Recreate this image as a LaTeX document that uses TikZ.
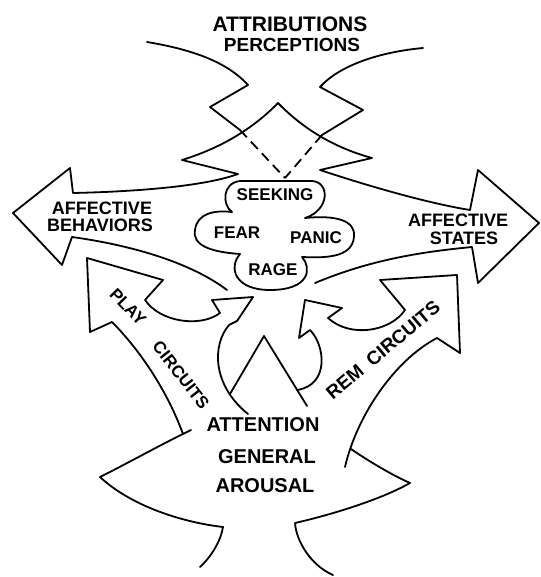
\documentclass[tikz,border=0pt]{standalone}
\usepackage{fontspec}
\setmainfont{Liberation Sans}
\newcommand\fsz[1]{\fontsize{#1}{#1}\selectfont\bfseries}
\tikzset{
  ln/.style={line width=1.8pt, line join=round, line cap=round},
  dsh/.style={line width=1.8pt, dash pattern=on 10pt off 6pt},
  lbl/.style={inner sep=0pt}
}
\begin{document}
\begin{tikzpicture}[x=1pt,y=-1pt]
\useasboundingbox (0,0) rectangle (540,577);

% top incoming arrow (attributions)
\draw[ln] (147,42) .. controls (195,50) and (228,63) .. (248,85) -- (210,107) -- (240,130);
\draw[dsh] (240,130) -- (285,178);
\draw[ln] (423,48) .. controls (380,52) and (340,65) .. (320,87) -- (363,110) -- (322,135);
\draw[dsh] (322,135) -- (285,178);

% horizontal arrows joined with upward head
\draw[ln] (227,290) .. controls (190,262) and (130,245) .. (72,237) -- (62,265) -- (13,213) -- (70,168) -- (73,193)
  .. controls (120,192) and (200,188) .. (238,174) -- (182,160)
  .. controls (220.7,148) and (252.7,129) .. (278,103)
  .. controls (304,129.7) and (335.3,148) .. (372,158) -- (320,170)
  .. controls (350,180) and (420,202) .. (470,210) -- (478,170) -- (539,223) -- (478,283) -- (472,247)
  .. controls (420,252) and (370,260) .. (315,283);

% cloud
\draw[ln] (232,212) .. controls (222,205) and (222,183) .. (240,181) -- (312,181)
  .. controls (330,182) and (330,210) .. (305,218)
  .. controls (335,215) and (356,220) .. (354,237)
  .. controls (352,258) and (325,258) .. (302,257)
  .. controls (312,268) and (310,290) .. (270,290)
  .. controls (235,290) and (228,268) .. (240,254)
  .. controls (210,252) and (192,245) .. (195,230)
  .. controls (197,213) and (215,210) .. (232,212) -- cycle;

% play circuits arrow + body left
\draw[ln] (163,280) -- (87,258) -- (90,332) -- (112,322)
  .. controls (135,345) and (165,385) .. (183,434) -- (191,430)
  .. controls (160,445) and (130,462) .. (100,477)
  .. controls (130,505) and (180,522) .. (223,527)
  .. controls (221,540) and (212,556) .. (200,567);
% left loop
\draw[ln] (163,280) -- (145,300) .. controls (160,322) and (200,328) .. (220,313)
  -- (212,300) -- (253,297) -- (237,321) -- (229,325)
  .. controls (212,345) and (212,385) .. (248,414);
% central peak
\draw[ln] (230,394) -- (264,336) -- (307,406);
% right loop
\draw[ln] (405,310) .. controls (390,332) and (350,338) .. (328,318) -- (342,308) -- (305,300) -- (299,338) -- (310,330)
  .. controls (325,345) and (330,385) .. (297,390);
% rem arrow
\draw[ln] (405,310) -- (380,280) -- (457,275) -- (460,353) -- (437,338)
  .. controls (395,360) and (357,415) .. (345,467);
% body right
\draw[ln] (351,449) .. controls (370,462) and (392,475) .. (410,483)
  .. controls (380,500) and (330,515) .. (295,523)
  .. controls (296,540) and (310,565) .. (333,575);

% labels
\node[lbl, font=\fsz{21}] (attr) at (290,24) {ATTRIBUTIONS};
\node[lbl, font=\fsz{19}] (perc) at (292,45) {PERCEPTIONS};
\node[lbl, font=\fsz{17}] (seek) at (275,195) {SEEKING};
\node[lbl, font=\fsz{17}] (fear) at (237,233) {FEAR};
\node[lbl, font=\fsz{17}] (panic) at (316,238) {PANIC};
\node[lbl, font=\fsz{17}] (rage) at (273,270) {RAGE};
\node[lbl, font=\fsz{18}] (affl) at (102,208) {AFFECTIVE};
\node[lbl, font=\fsz{18}] (behav) at (100,225) {BEHAVIORS};
\node[lbl, font=\fsz{18}] (affr) at (458,220) {AFFECTIVE};
\node[lbl, font=\fsz{18}] (states) at (464,238) {STATES};
\node[lbl, font=\fsz{17}, rotate=-46] (play) at (128,307) {PLAY};
\node[lbl, font=\fsz{17}, rotate=-52] (pcirc) at (181,375) {CIRCUITS};
\node[lbl, font=\fsz{19}, rotate=40] (remc) at (383,350) {REM\hspace{10pt}CIRCUITS};
\node[lbl, font=\fsz{20}] (att) at (263,425) {ATTENTION};
\node[lbl, font=\fsz{20}] (gen) at (267,457) {GENERAL};
\node[lbl, font=\fsz{20}] (aro) at (265,486) {AROUSAL};
\end{tikzpicture}
\end{document}
